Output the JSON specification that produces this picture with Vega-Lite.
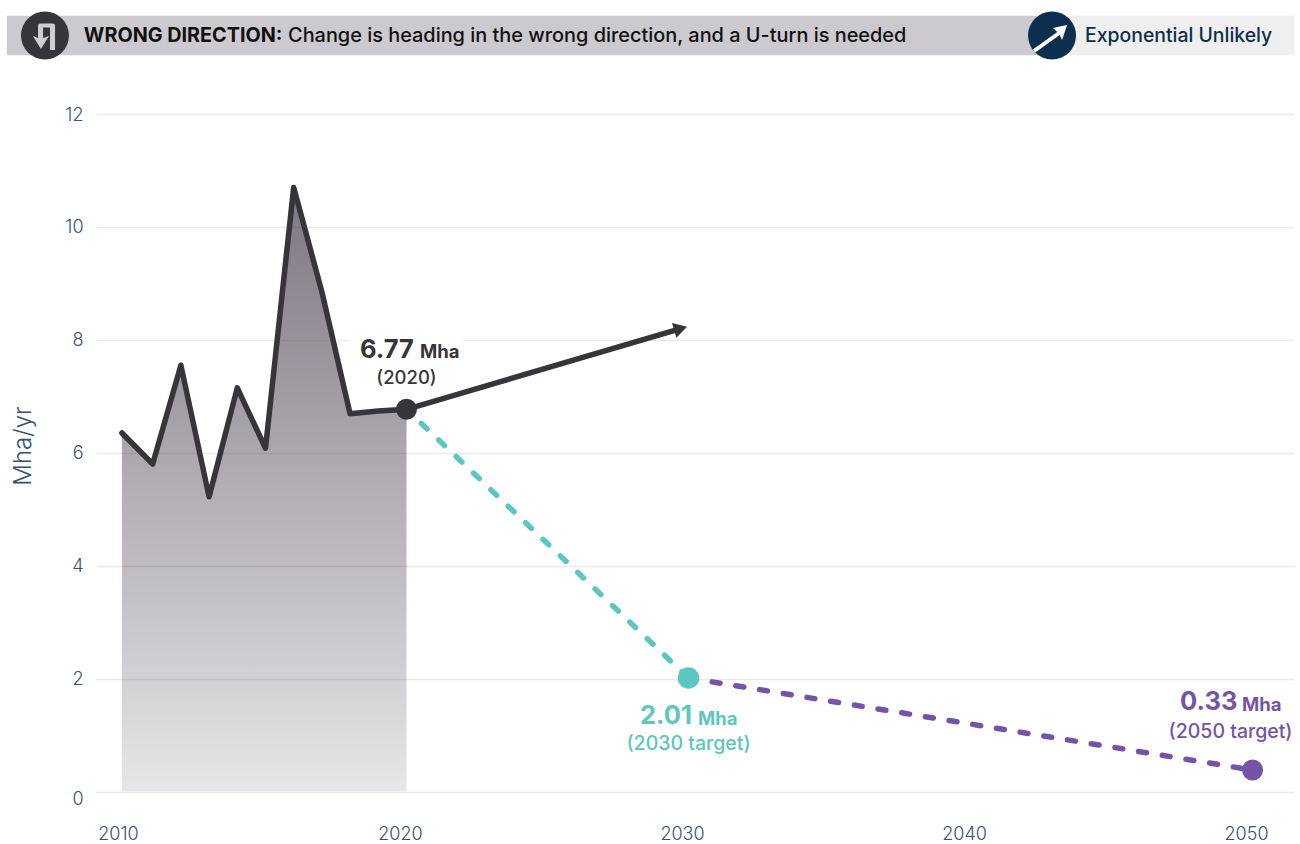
{
"$schema":"https://vega.github.io/schema/vega-lite/v6.json",
"autosize":"none","width":1198,"height":677.5,
"padding":{"left":96,"right":6,"top":114,"bottom":52.5},
"background":"#ffffff",
"config":{"view":{"stroke":null},"text":{"font":"Inter"}},
"encoding":{
 "x":{"field":"year","type":"quantitative","scale":{"domain":[2008.99,2051.47],"nice":false,"zero":false},
  "axis":{"title":null,"values":[2010,2020,2030,2040,2050],"format":"d","grid":false,"domain":false,"ticks":false,"labelFont":"Inter","labelFontWeight":300,"labelFontSize":18,"labelColor":"#36526f","labelPadding":34,"labelOffset":-6.5,"labelFlush":false}},
 "y":{"field":"mha","type":"quantitative","scale":{"domain":[0,12],"nice":false,"zero":false},
  "axis":{"title":"Mha/yr","titleFont":"Inter","titleFontWeight":300,"titleFontSize":24,"titleColor":"#36526f","titleX":-61,"titleY":331.5,"values":[0,2,4,6,8,10,12],"format":"d","grid":true,"gridColor":"#eceae5","gridWidth":1.5,"domain":false,"ticks":false,"labelFont":"Inter","labelFontWeight":300,"labelFontSize":18,"labelColor":"#36526f","labelPadding":13,"labelFlush":false,"labelOffset":{"condition":{"test":"datum.value===0","value":8},"value":1}}}
},
"layer":[
 {"data":{"values":[{"year":2005.83,"year2":2042.89,"mha":13.04,"mha2":13.74}]},"mark":{"type":"rect","color":"#cccacf"},"encoding":{"x2":{"field":"year2"},"y2":{"field":"mha2"}}},
 {"data":{"values":[{"year":2042.89,"year2":2051.47,"mha":13.04,"mha2":13.74}]},"mark":{"type":"rect","color":"#efeff0"},"encoding":{"x2":{"field":"year2"},"y2":{"field":"mha2"}}},
 {"data":{"values":[{"year":2018.0,"year2":2022.0,"mha":7.08,"mha2":8.09}]},"mark":{"type":"rect","color":"#ffffff"},"encoding":{"x2":{"field":"year2"},"y2":{"field":"mha2"}}},
 {"data":{"name":"hist","values":[
  {"year":2009.91,"mha":6.35},{"year":2011,"mha":5.8},{"year":2012,"mha":7.55},{"year":2013,"mha":5.22},{"year":2014,"mha":7.15},{"year":2015,"mha":6.08},{"year":2016,"mha":10.7},{"year":2017,"mha":8.85},{"year":2018,"mha":6.69},{"year":2019,"mha":6.74},{"year":2020,"mha":6.77}]},
  "layer":[
   {"mark":{"type":"area","color":{"gradient":"linear","x1":0,"y1":0,"x2":0,"y2":1,"stops":[{"offset":0,"color":"rgba(58,48,64,0.66)"},{"offset":1,"color":"rgba(58,48,64,0.12)"}]}}},
   {"mark":{"type":"line","color":"#37343a","strokeWidth":5.5,"strokeJoin":"round","strokeCap":"round"}}
  ]},
 {"data":{"values":[{"year":2020,"mha":6.77},{"year":2030,"mha":2.01}]},"mark":{"type":"line","color":"#5cc6c0","strokeWidth":5.5,"strokeCap":"round","strokeDash":[8,16],"strokeDashOffset":3.5}},
 {"data":{"values":[{"year":2030,"mha":2.01},{"year":2050,"mha":0.38}]},"mark":{"type":"line","color":"#7553a8","strokeWidth":5.5,"strokeCap":"round","strokeDash":[8,16]}},
 {"data":{"values":[{"year":2020,"mha":6.77},{"year":2029.72,"mha":8.2}]},"mark":{"type":"line","color":"#37343a","strokeWidth":5.5,"strokeCap":"butt"}},
 {"data":{"values":[{"year":2029.72,"mha":8.2}]},"mark":{"type":"point","shape":"triangle-right","filled":true,"opacity":1,"color":"#37343a","size":240,"angle":-16.5}},
 {"data":{"values":[{"year":2020,"mha":6.77}]},"mark":{"type":"point","filled":true,"opacity":1,"color":"#37343a","size":441}},
 {"data":{"values":[{"year":2030,"mha":2.01}]},"mark":{"type":"point","filled":true,"opacity":1,"color":"#5cc6c0","size":462}},
 {"data":{"values":[{"year":2050,"mha":0.38}]},"mark":{"type":"point","filled":true,"opacity":1,"color":"#7553a8","size":441}},
 {"data":{"values":[{"year":2007.18,"mha":13.39}]},"mark":{"type":"point","filled":true,"opacity":1,"color":"#37343a","size":2304}},
 {"data":{"values":[{"year":2042.89,"mha":13.39}]},"mark":{"type":"point","filled":true,"opacity":1,"color":"#0d2f4f","size":2304}},
 {"data":{"values":[{"year":2007.18,"mha":13.39}]},"mark":{"type":"point","filled":true,"opacity":1,"color":"#cfcdd1","size":2304,"shape":"M -.29 -.4 Q -.29 -.5 -.17 -.5 L .3 -.5 Q .42 -.5 .42 -.4 L .42 .6 L .21 .6 L .21 -.33 L -.08 -.33 L -.08 .1 L .17 .02 L -.17 .56 L -.5 .02 L -.29 .1 Z"}},
 {"data":{"values":[{"year":2042.89,"mha":13.39}]},"mark":{"type":"point","filled":true,"opacity":1,"color":"#ffffff","size":2304,"shape":"M -.8 .58 L .22 -.15 L .04 -.31 L .625 -.44 L .42 .19 L .32 -.02 L -.7 .71 Z"}},
 {"data":{"values":[{"year":2008.56,"mha":13.27,"label":"WRONG DIRECTION:"}]},"mark":{"type":"text","align":"left","baseline":"alphabetic","fontSize":19.8,"fontWeight":700,"color":"#111111"},"encoding":{"text":{"field":"label"}}},
 {"data":{"values":[{"year":2015.8,"mha":13.27,"label":"Change is heading in the wrong direction, and a U-turn is needed"}]},"mark":{"type":"text","align":"left","baseline":"alphabetic","fontSize":19.9,"fontWeight":500,"color":"#111111"},"encoding":{"text":{"field":"label"}}},
 {"data":{"values":[{"year":2044.06,"mha":13.27,"label":"Exponential Unlikely"}]},"mark":{"type":"text","align":"left","baseline":"alphabetic","fontSize":19.4,"fontWeight":500,"color":"#0d2f4f"},"encoding":{"text":{"field":"label"}}},
 {"data":{"values":[{"year":2018.35,"mha":7.68,"label":"6.77"}]},"mark":{"type":"text","align":"left","baseline":"alphabetic","fontSize":25.5,"fontWeight":700,"color":"#37343a"},"encoding":{"text":{"field":"label"}}},
 {"data":{"values":[{"year":2020.48,"mha":7.68,"label":"Mha"}]},"mark":{"type":"text","align":"left","baseline":"alphabetic","fontSize":18.5,"fontWeight":700,"color":"#37343a"},"encoding":{"text":{"field":"label"}}},
 {"data":{"values":[{"year":2020,"mha":7.22,"label":"(2020)"}]},"mark":{"type":"text","align":"center","baseline":"alphabetic","fontSize":18.5,"fontWeight":500,"color":"#37343a"},"encoding":{"text":{"field":"label"}}},
 {"data":{"values":[{"year":2028.28,"mha":1.19,"label":"2.01"}]},"mark":{"type":"text","align":"left","baseline":"alphabetic","fontSize":25.5,"fontWeight":700,"color":"#5cc6c0"},"encoding":{"text":{"field":"label"}}},
 {"data":{"values":[{"year":2030.34,"mha":1.18,"label":"Mha"}]},"mark":{"type":"text","align":"left","baseline":"alphabetic","fontSize":18.5,"fontWeight":700,"color":"#5cc6c0"},"encoding":{"text":{"field":"label"}}},
 {"data":{"values":[{"year":2030,"mha":0.73,"label":"(2030 target)"}]},"mark":{"type":"text","align":"center","baseline":"alphabetic","fontSize":19.5,"fontWeight":500,"color":"#5cc6c0"},"encoding":{"text":{"field":"label"}}},
 {"data":{"values":[{"year":2047.43,"mha":1.44,"label":"0.33"}]},"mark":{"type":"text","align":"left","baseline":"alphabetic","fontSize":25.5,"fontWeight":700,"color":"#7553a8"},"encoding":{"text":{"field":"label"}}},
 {"data":{"values":[{"year":2049.63,"mha":1.43,"label":"Mha"}]},"mark":{"type":"text","align":"left","baseline":"alphabetic","fontSize":18.5,"fontWeight":700,"color":"#7553a8"},"encoding":{"text":{"field":"label"}}},
 {"data":{"values":[{"year":2049.22,"mha":0.95,"label":"(2050 target)"}]},"mark":{"type":"text","align":"center","baseline":"alphabetic","fontSize":19.5,"fontWeight":500,"color":"#7553a8"},"encoding":{"text":{"field":"label"}}}
]
}
